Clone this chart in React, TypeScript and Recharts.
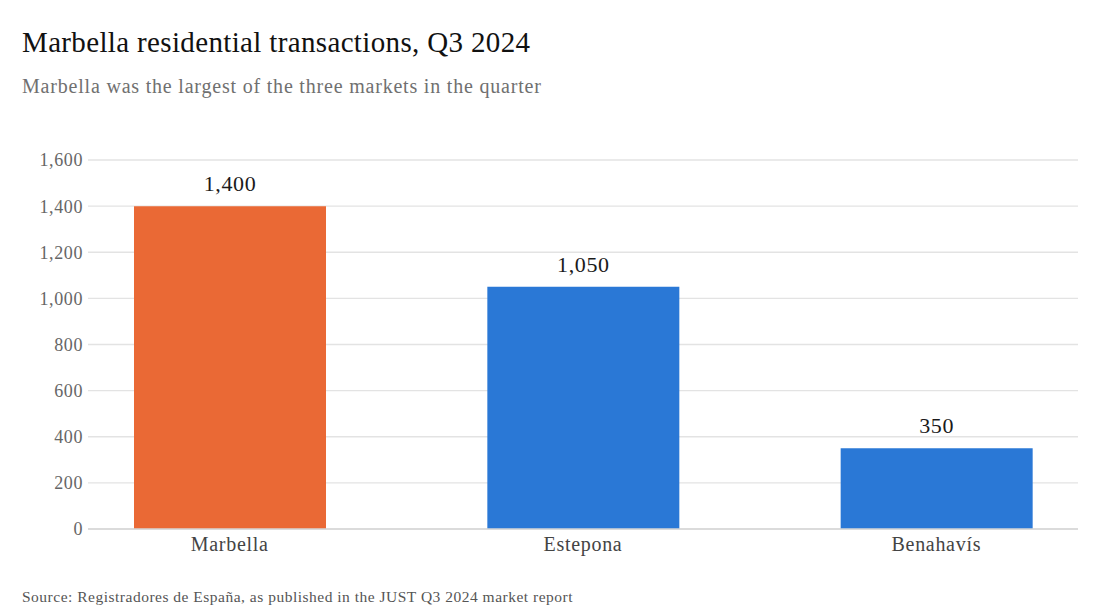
import { Bar, BarChart, CartesianGrid, Cell, LabelList, XAxis, YAxis } from 'recharts';

const MARKETS = ['Marbella', 'Estepona', 'Benahavís'];
const TRANSACTIONS = [1400, 1050, 350];
const BAR_COLORS = ['#EA6935', '#2A78D6', '#2A78D6'];
const Y_TICKS = [0, 200, 400, 600, 800, 1000, 1200, 1400, 1600];

const FONT = '"Liberation Serif", "DejaVu Serif", serif';

const data = MARKETS.map((market, i) => ({ market, value: TRANSACTIONS[i] }));

const fmt = (v: number) => v.toLocaleString('en-US');

export default function App() {
  return (
    <div
      style={{
        position: 'absolute',
        left: 0,
        top: 0,
        width: 1100,
        height: 616,
        background: '#fff',
        fontFamily: FONT,
        overflow: 'hidden'
      }}
    >
      <div
        style={{
          position: 'absolute',
          left: 22,
          top: 26,
          fontSize: 29,
          letterSpacing: 0.35,
          color: '#111',
          whiteSpace: 'nowrap'
        }}
      >
        Marbella residential transactions, Q3 2024
      </div>
      <div
        style={{
          position: 'absolute',
          left: 22,
          top: 75,
          fontSize: 20,
          letterSpacing: 0.8,
          color: '#707070',
          whiteSpace: 'nowrap'
        }}
      >
        Marbella was the largest of the three markets in the quarter
      </div>
      <div style={{ position: 'absolute', left: 0, top: 0 }}>
        <BarChart
          width={1100}
          height={616}
          data={data}
          margin={{ top: 160, right: 22, bottom: 57, left: 28 }}
        >
          <CartesianGrid vertical={false} stroke="#e3e3e3" strokeWidth={1.3} />
          <XAxis
            dataKey="market"
            height={30}
            padding={{ left: -35, right: -35 }}
            tickLine={false}
            tickSize={0}
            tickMargin={8}
            axisLine={{ stroke: '#d6d6d6', strokeWidth: 1.5 }}
            tick={{ fontSize: 20, fill: '#444', fontFamily: FONT, letterSpacing: 0.7 }}
          />
          <YAxis
            width={60}
            domain={[0, 1600]}
            ticks={Y_TICKS}
            tickFormatter={fmt}
            axisLine={false}
            tickLine={false}
            tickSize={0}
            tickMargin={5}
            tick={{ fontSize: 18, fill: '#666', fontFamily: FONT, letterSpacing: 0.6 }}
          />
          <Bar dataKey="value" barSize={192} isAnimationActive={false}>
            {data.map((d, i) => (
              <Cell key={d.market} fill={BAR_COLORS[i]} />
            ))}
            <LabelList
              dataKey="value"
              position="top"
              offset={15}
              formatter={(v: number) => fmt(v)}
              style={{ fontSize: 22, fill: '#1a1a1a', fontFamily: FONT, letterSpacing: 0.6 }}
            />
          </Bar>
        </BarChart>
      </div>
      <div
        style={{
          position: 'absolute',
          left: 22,
          top: 588,
          fontSize: 15.5,
          letterSpacing: 0.5,
          color: '#555',
          whiteSpace: 'nowrap'
        }}
      >
        Source: Registradores de España, as published in the JUST Q3 2024 market report
      </div>
    </div>
  );
}
